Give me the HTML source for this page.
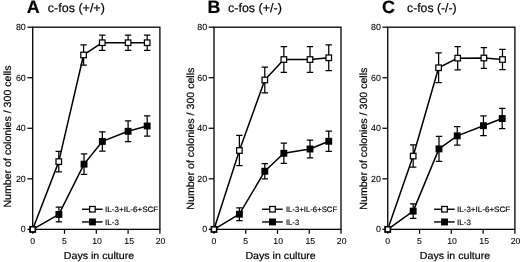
<!DOCTYPE html>
<html lang="en"><head><meta charset="utf-8"><title>c-fos colony assays</title>
<style>
html,body{margin:0;padding:0;background:#fff;}
body{width:520px;height:262px;overflow:hidden;font-family:"Liberation Sans",sans-serif;}
.fig{width:520px;height:262px;will-change:transform;-webkit-font-smoothing:antialiased;}
svg{display:block;text-rendering:geometricPrecision;}
svg text{stroke:#000;stroke-width:.2px;}
svg text.tk{stroke-width:.08px;}
svg text.lg{stroke-width:.15px;}
</style></head><body>
<div class="fig">
<svg width="520" height="262" viewBox="0 0 520 262" font-family="Liberation Sans, sans-serif" fill="#000">
<rect x="0" y="0" width="520" height="262" fill="#fff"/>
<g>
<rect x="32.70" y="27.19" width="127.20" height="202.16" fill="none" stroke="#000" stroke-width="1.3"/>
<line x1="27.40" y1="229.35" x2="32.70" y2="229.35" stroke="#000" stroke-width="1.25"/>
<text class="tk" x="25.80" y="232.40" font-size="8.9" text-anchor="end">0</text>
<line x1="27.40" y1="178.81" x2="32.70" y2="178.81" stroke="#000" stroke-width="1.25"/>
<text class="tk" x="25.80" y="181.86" font-size="8.9" text-anchor="end">20</text>
<line x1="27.40" y1="128.27" x2="32.70" y2="128.27" stroke="#000" stroke-width="1.25"/>
<text class="tk" x="25.80" y="131.32" font-size="8.9" text-anchor="end">40</text>
<line x1="27.40" y1="77.73" x2="32.70" y2="77.73" stroke="#000" stroke-width="1.25"/>
<text class="tk" x="25.80" y="80.78" font-size="8.9" text-anchor="end">60</text>
<line x1="27.40" y1="27.19" x2="32.70" y2="27.19" stroke="#000" stroke-width="1.25"/>
<text class="tk" x="25.80" y="30.24" font-size="8.9" text-anchor="end">80</text>
<line x1="32.70" y1="229.35" x2="32.70" y2="233.85" stroke="#000" stroke-width="1.25"/>
<text class="tk" x="32.70" y="244.40" font-size="8.7" text-anchor="middle">0</text>
<line x1="64.50" y1="229.35" x2="64.50" y2="233.85" stroke="#000" stroke-width="1.25"/>
<text class="tk" x="64.50" y="244.40" font-size="8.7" text-anchor="middle">5</text>
<line x1="96.30" y1="229.35" x2="96.30" y2="233.85" stroke="#000" stroke-width="1.25"/>
<text class="tk" x="97.00" y="244.40" font-size="8.7" text-anchor="middle">10</text>
<line x1="128.10" y1="229.35" x2="128.10" y2="233.85" stroke="#000" stroke-width="1.25"/>
<text class="tk" x="129.20" y="244.40" font-size="8.7" text-anchor="middle">15</text>
<line x1="159.90" y1="229.35" x2="159.90" y2="233.85" stroke="#000" stroke-width="1.25"/>
<text class="tk" x="160.60" y="244.40" font-size="8.7" text-anchor="middle">20</text>
<text x="63.80" y="259.1" font-size="10.2" textLength="70.4" lengthAdjust="spacingAndGlyphs">Days in culture</text>
<text transform="translate(11.25,207.55) rotate(-90)" font-size="10.4" textLength="142.0" lengthAdjust="spacingAndGlyphs">Number of colonies / 300 cells</text>
<text x="26.80" y="12.5" font-size="17.9" font-weight="bold">A</text>
<text x="47.85" y="12.3" font-size="12.3" textLength="57.0" lengthAdjust="spacingAndGlyphs">c-fos (+/+)</text>
<path d="M58.90 207.11V221.77M55.70 207.11H62.10M55.70 221.77H62.10" stroke="#000" stroke-width="1.25" fill="none"/>
<path d="M84.03 153.92V174.39M80.83 153.92H87.23M80.83 174.39H87.23" stroke="#000" stroke-width="1.25" fill="none"/>
<path d="M102.34 131.81V151.01M99.14 131.81H105.54M99.14 151.01H105.54" stroke="#000" stroke-width="1.25" fill="none"/>
<path d="M128.10 120.94V141.66M124.90 120.94H131.30M124.90 141.66H131.30" stroke="#000" stroke-width="1.25" fill="none"/>
<path d="M147.18 115.89V136.10M143.98 115.89H150.38M143.98 136.10H150.38" stroke="#000" stroke-width="1.25" fill="none"/>
<polyline points="32.70,229.35 58.90,214.44 84.03,164.15 102.34,141.41 128.10,131.30 147.18,126.00" fill="none" stroke="#000" stroke-width="1.5" stroke-linejoin="round"/>
<rect x="29.25" y="225.90" width="6.90" height="6.90" fill="#000"/>
<rect x="55.45" y="210.99" width="6.90" height="6.90" fill="#000"/>
<rect x="80.58" y="160.70" width="6.90" height="6.90" fill="#000"/>
<rect x="98.89" y="137.96" width="6.90" height="6.90" fill="#000"/>
<rect x="124.65" y="127.85" width="6.90" height="6.90" fill="#000"/>
<rect x="143.73" y="122.55" width="6.90" height="6.90" fill="#000"/>
<path d="M58.78 151.39V171.86M55.58 151.39H61.98M55.58 171.86H61.98" stroke="#000" stroke-width="1.25" fill="none"/>
<path d="M83.58 44.88V65.09M80.38 44.88H86.78M80.38 65.09H86.78" stroke="#000" stroke-width="1.25" fill="none"/>
<path d="M102.28 35.15V50.31M99.08 35.15H105.48M99.08 50.31H105.48" stroke="#000" stroke-width="1.25" fill="none"/>
<path d="M128.10 35.15V50.31M124.90 35.15H131.30M124.90 50.31H131.30" stroke="#000" stroke-width="1.25" fill="none"/>
<path d="M147.18 35.15V50.31M143.98 35.15H150.38M143.98 50.31H150.38" stroke="#000" stroke-width="1.25" fill="none"/>
<polyline points="32.70,229.35 58.78,161.63 83.58,54.99 102.28,42.73 128.10,42.73 147.18,42.73" fill="none" stroke="#000" stroke-width="1.5" stroke-linejoin="round"/>
<rect x="30.28" y="226.92" width="4.85" height="4.85" fill="#fff" stroke="#000" stroke-width="1.25"/>
<rect x="56.00" y="158.85" width="5.55" height="5.55" fill="#fff" stroke="#000" stroke-width="1.25"/>
<rect x="80.81" y="52.21" width="5.55" height="5.55" fill="#fff" stroke="#000" stroke-width="1.25"/>
<rect x="99.50" y="39.96" width="5.55" height="5.55" fill="#fff" stroke="#000" stroke-width="1.25"/>
<rect x="125.33" y="39.96" width="5.55" height="5.55" fill="#fff" stroke="#000" stroke-width="1.25"/>
<rect x="144.41" y="39.96" width="5.55" height="5.55" fill="#fff" stroke="#000" stroke-width="1.25"/>
<line x1="82.00" y1="209.25" x2="102.60" y2="209.25" stroke="#000" stroke-width="1.4"/>
<rect x="89.62" y="206.47" width="5.55" height="5.55" fill="#fff" stroke="#000" stroke-width="1.25"/>
<text class="lg" x="105.10" y="211.90" font-size="7.8" textLength="53.2" lengthAdjust="spacingAndGlyphs">IL-3+IL-6+SCF</text>
<line x1="82.00" y1="221.95" x2="102.60" y2="221.95" stroke="#000" stroke-width="1.4"/>
<rect x="88.95" y="218.50" width="6.90" height="6.90" fill="#000"/>
<text class="lg" x="105.10" y="224.60" font-size="7.8" textLength="13.9" lengthAdjust="spacingAndGlyphs">IL-3</text>
</g>
<g>
<rect x="214.00" y="27.19" width="127.00" height="202.16" fill="none" stroke="#000" stroke-width="1.3"/>
<line x1="208.70" y1="229.35" x2="214.00" y2="229.35" stroke="#000" stroke-width="1.25"/>
<text class="tk" x="207.10" y="232.40" font-size="8.9" text-anchor="end">0</text>
<line x1="208.70" y1="178.81" x2="214.00" y2="178.81" stroke="#000" stroke-width="1.25"/>
<text class="tk" x="207.10" y="181.86" font-size="8.9" text-anchor="end">20</text>
<line x1="208.70" y1="128.27" x2="214.00" y2="128.27" stroke="#000" stroke-width="1.25"/>
<text class="tk" x="207.10" y="131.32" font-size="8.9" text-anchor="end">40</text>
<line x1="208.70" y1="77.73" x2="214.00" y2="77.73" stroke="#000" stroke-width="1.25"/>
<text class="tk" x="207.10" y="80.78" font-size="8.9" text-anchor="end">60</text>
<line x1="208.70" y1="27.19" x2="214.00" y2="27.19" stroke="#000" stroke-width="1.25"/>
<text class="tk" x="207.10" y="30.24" font-size="8.9" text-anchor="end">80</text>
<line x1="214.00" y1="229.35" x2="214.00" y2="233.85" stroke="#000" stroke-width="1.25"/>
<text class="tk" x="214.00" y="244.40" font-size="8.7" text-anchor="middle">0</text>
<line x1="245.75" y1="229.35" x2="245.75" y2="233.85" stroke="#000" stroke-width="1.25"/>
<text class="tk" x="245.75" y="244.40" font-size="8.7" text-anchor="middle">5</text>
<line x1="277.50" y1="229.35" x2="277.50" y2="233.85" stroke="#000" stroke-width="1.25"/>
<text class="tk" x="278.20" y="244.40" font-size="8.7" text-anchor="middle">10</text>
<line x1="309.25" y1="229.35" x2="309.25" y2="233.85" stroke="#000" stroke-width="1.25"/>
<text class="tk" x="310.35" y="244.40" font-size="8.7" text-anchor="middle">15</text>
<line x1="341.00" y1="229.35" x2="341.00" y2="233.85" stroke="#000" stroke-width="1.25"/>
<text class="tk" x="341.70" y="244.40" font-size="8.7" text-anchor="middle">20</text>
<text x="245.40" y="259.1" font-size="10.2" textLength="70.4" lengthAdjust="spacingAndGlyphs">Days in culture</text>
<text transform="translate(193.90,209.65) rotate(-90)" font-size="10.4" textLength="142.0" lengthAdjust="spacingAndGlyphs">Number of colonies / 300 cells</text>
<text x="207.60" y="12.5" font-size="17.9" font-weight="bold">B</text>
<text x="228.00" y="12.3" font-size="12.3" textLength="53.8" lengthAdjust="spacingAndGlyphs">c-fos (+/-)</text>
<path d="M239.40 207.87V220.51M236.20 207.87H242.60M236.20 220.51H242.60" stroke="#000" stroke-width="1.25" fill="none"/>
<path d="M264.80 163.65V178.81M261.60 163.65H268.00M261.60 178.81H268.00" stroke="#000" stroke-width="1.25" fill="none"/>
<path d="M283.85 143.18V163.40M280.65 143.18H287.05M280.65 163.40H287.05" stroke="#000" stroke-width="1.25" fill="none"/>
<path d="M310.01 140.15V157.84M306.81 140.15H313.21M306.81 157.84H313.21" stroke="#000" stroke-width="1.25" fill="none"/>
<path d="M328.74 131.18V151.39M325.54 131.18H331.94M325.54 151.39H331.94" stroke="#000" stroke-width="1.25" fill="none"/>
<polyline points="214.00,229.35 239.40,214.19 264.80,171.23 283.85,153.29 310.01,148.99 328.74,141.28" fill="none" stroke="#000" stroke-width="1.5" stroke-linejoin="round"/>
<rect x="210.55" y="225.90" width="6.90" height="6.90" fill="#000"/>
<rect x="235.95" y="210.74" width="6.90" height="6.90" fill="#000"/>
<rect x="261.35" y="167.78" width="6.90" height="6.90" fill="#000"/>
<rect x="280.40" y="149.84" width="6.90" height="6.90" fill="#000"/>
<rect x="306.56" y="145.54" width="6.90" height="6.90" fill="#000"/>
<rect x="325.29" y="137.83" width="6.90" height="6.90" fill="#000"/>
<path d="M239.40 135.35V165.67M236.20 135.35H242.60M236.20 165.67H242.60" stroke="#000" stroke-width="1.25" fill="none"/>
<path d="M264.80 67.12V92.89M261.60 67.12H268.00M261.60 92.89H268.00" stroke="#000" stroke-width="1.25" fill="none"/>
<path d="M283.85 46.65V72.42M280.65 46.65H287.05M280.65 72.42H287.05" stroke="#000" stroke-width="1.25" fill="none"/>
<path d="M310.01 46.65V72.42M306.81 46.65H313.21M306.81 72.42H313.21" stroke="#000" stroke-width="1.25" fill="none"/>
<path d="M328.74 44.93V70.60M325.54 44.93H331.94M325.54 70.60H331.94" stroke="#000" stroke-width="1.25" fill="none"/>
<polyline points="214.00,229.35 239.40,150.51 264.80,80.00 283.85,59.54 310.01,59.54 328.74,57.77" fill="none" stroke="#000" stroke-width="1.5" stroke-linejoin="round"/>
<rect x="211.57" y="226.92" width="4.85" height="4.85" fill="#fff" stroke="#000" stroke-width="1.25"/>
<rect x="236.62" y="147.73" width="5.55" height="5.55" fill="#fff" stroke="#000" stroke-width="1.25"/>
<rect x="262.03" y="77.23" width="5.55" height="5.55" fill="#fff" stroke="#000" stroke-width="1.25"/>
<rect x="281.08" y="56.76" width="5.55" height="5.55" fill="#fff" stroke="#000" stroke-width="1.25"/>
<rect x="307.24" y="56.76" width="5.55" height="5.55" fill="#fff" stroke="#000" stroke-width="1.25"/>
<rect x="325.97" y="54.99" width="5.55" height="5.55" fill="#fff" stroke="#000" stroke-width="1.25"/>
<line x1="262.10" y1="209.25" x2="282.70" y2="209.25" stroke="#000" stroke-width="1.4"/>
<rect x="269.73" y="206.47" width="5.55" height="5.55" fill="#fff" stroke="#000" stroke-width="1.25"/>
<text class="lg" x="285.90" y="211.90" font-size="7.8" textLength="51.3" lengthAdjust="spacingAndGlyphs">IL-3+IL-6+SCF</text>
<line x1="262.10" y1="221.95" x2="282.70" y2="221.95" stroke="#000" stroke-width="1.4"/>
<rect x="269.05" y="218.50" width="6.90" height="6.90" fill="#000"/>
<text class="lg" x="285.90" y="224.60" font-size="7.8" textLength="13.4" lengthAdjust="spacingAndGlyphs">IL-3</text>
</g>
<g>
<rect x="387.75" y="27.19" width="127.15" height="202.16" fill="none" stroke="#000" stroke-width="1.3"/>
<line x1="382.45" y1="229.35" x2="387.75" y2="229.35" stroke="#000" stroke-width="1.25"/>
<text class="tk" x="380.85" y="232.40" font-size="8.9" text-anchor="end">0</text>
<line x1="382.45" y1="178.81" x2="387.75" y2="178.81" stroke="#000" stroke-width="1.25"/>
<text class="tk" x="380.85" y="181.86" font-size="8.9" text-anchor="end">20</text>
<line x1="382.45" y1="128.27" x2="387.75" y2="128.27" stroke="#000" stroke-width="1.25"/>
<text class="tk" x="380.85" y="131.32" font-size="8.9" text-anchor="end">40</text>
<line x1="382.45" y1="77.73" x2="387.75" y2="77.73" stroke="#000" stroke-width="1.25"/>
<text class="tk" x="380.85" y="80.78" font-size="8.9" text-anchor="end">60</text>
<line x1="382.45" y1="27.19" x2="387.75" y2="27.19" stroke="#000" stroke-width="1.25"/>
<text class="tk" x="380.85" y="30.24" font-size="8.9" text-anchor="end">80</text>
<line x1="387.75" y1="229.35" x2="387.75" y2="233.85" stroke="#000" stroke-width="1.25"/>
<text class="tk" x="387.75" y="244.40" font-size="8.7" text-anchor="middle">0</text>
<line x1="419.54" y1="229.35" x2="419.54" y2="233.85" stroke="#000" stroke-width="1.25"/>
<text class="tk" x="419.54" y="244.40" font-size="8.7" text-anchor="middle">5</text>
<line x1="451.32" y1="229.35" x2="451.32" y2="233.85" stroke="#000" stroke-width="1.25"/>
<text class="tk" x="452.02" y="244.40" font-size="8.7" text-anchor="middle">10</text>
<line x1="483.11" y1="229.35" x2="483.11" y2="233.85" stroke="#000" stroke-width="1.25"/>
<text class="tk" x="484.21" y="244.40" font-size="8.7" text-anchor="middle">15</text>
<line x1="514.90" y1="229.35" x2="514.90" y2="233.85" stroke="#000" stroke-width="1.25"/>
<text class="tk" x="515.60" y="244.40" font-size="8.7" text-anchor="middle">20</text>
<text x="419.80" y="259.1" font-size="10.2" textLength="70.4" lengthAdjust="spacingAndGlyphs">Days in culture</text>
<text transform="translate(367.10,209.65) rotate(-90)" font-size="10.4" textLength="142.0" lengthAdjust="spacingAndGlyphs">Number of colonies / 300 cells</text>
<text x="382.10" y="12.5" font-size="17.9" font-weight="bold">C</text>
<text x="407.00" y="12.3" font-size="12.3" textLength="49.7" lengthAdjust="spacingAndGlyphs">c-fos (-/-)</text>
<path d="M413.18 203.83V218.48M409.98 203.83H416.38M409.98 218.48H416.38" stroke="#000" stroke-width="1.25" fill="none"/>
<path d="M438.99 136.43V161.30M435.79 136.43H442.19M435.79 161.30H442.19" stroke="#000" stroke-width="1.25" fill="none"/>
<path d="M457.24 126.63V145.07M454.04 126.63H460.44M454.04 145.07H460.44" stroke="#000" stroke-width="1.25" fill="none"/>
<path d="M483.43 115.99V135.50M480.23 115.99H486.63M480.23 135.50H486.63" stroke="#000" stroke-width="1.25" fill="none"/>
<path d="M502.19 108.43V128.65M498.99 108.43H505.38M498.99 128.65H505.38" stroke="#000" stroke-width="1.25" fill="none"/>
<polyline points="387.75,229.35 413.18,211.16 438.99,148.87 457.24,135.85 483.43,125.74 502.19,118.54" fill="none" stroke="#000" stroke-width="1.5" stroke-linejoin="round"/>
<rect x="384.30" y="225.90" width="6.90" height="6.90" fill="#000"/>
<rect x="409.73" y="207.71" width="6.90" height="6.90" fill="#000"/>
<rect x="435.54" y="145.42" width="6.90" height="6.90" fill="#000"/>
<rect x="453.79" y="132.40" width="6.90" height="6.90" fill="#000"/>
<rect x="479.98" y="122.29" width="6.90" height="6.90" fill="#000"/>
<rect x="498.74" y="115.09" width="6.90" height="6.90" fill="#000"/>
<path d="M413.18 144.95V167.19M409.98 144.95H416.38M409.98 167.19H416.38" stroke="#000" stroke-width="1.25" fill="none"/>
<path d="M438.61 52.97V82.53M435.41 52.97H441.81M435.41 82.53H441.81" stroke="#000" stroke-width="1.25" fill="none"/>
<path d="M457.68 46.52V69.77M454.48 46.52H460.88M454.48 69.77H460.88" stroke="#000" stroke-width="1.25" fill="none"/>
<path d="M483.88 47.66V68.38M480.68 47.66H487.08M480.68 68.38H487.08" stroke="#000" stroke-width="1.25" fill="none"/>
<path d="M502.50 49.43V69.64M499.30 49.43H505.70M499.30 69.64H505.70" stroke="#000" stroke-width="1.25" fill="none"/>
<polyline points="387.75,229.35 413.18,156.07 438.61,67.75 457.68,58.15 483.88,58.02 502.50,59.54" fill="none" stroke="#000" stroke-width="1.5" stroke-linejoin="round"/>
<rect x="385.32" y="226.92" width="4.85" height="4.85" fill="#fff" stroke="#000" stroke-width="1.25"/>
<rect x="410.41" y="153.29" width="5.55" height="5.55" fill="#fff" stroke="#000" stroke-width="1.25"/>
<rect x="435.84" y="64.97" width="5.55" height="5.55" fill="#fff" stroke="#000" stroke-width="1.25"/>
<rect x="454.91" y="55.37" width="5.55" height="5.55" fill="#fff" stroke="#000" stroke-width="1.25"/>
<rect x="481.10" y="55.24" width="5.55" height="5.55" fill="#fff" stroke="#000" stroke-width="1.25"/>
<rect x="499.73" y="56.76" width="5.55" height="5.55" fill="#fff" stroke="#000" stroke-width="1.25"/>
<line x1="434.10" y1="209.25" x2="454.70" y2="209.25" stroke="#000" stroke-width="1.4"/>
<rect x="441.73" y="206.47" width="5.55" height="5.55" fill="#fff" stroke="#000" stroke-width="1.25"/>
<text class="lg" x="457.00" y="211.90" font-size="7.8" textLength="53.2" lengthAdjust="spacingAndGlyphs">IL-3+IL-6+SCF</text>
<line x1="434.10" y1="221.95" x2="454.70" y2="221.95" stroke="#000" stroke-width="1.4"/>
<rect x="441.05" y="218.50" width="6.90" height="6.90" fill="#000"/>
<text class="lg" x="457.00" y="224.60" font-size="7.8" textLength="13.9" lengthAdjust="spacingAndGlyphs">IL-3</text>
</g>
</svg>
</div>
</body></html>
